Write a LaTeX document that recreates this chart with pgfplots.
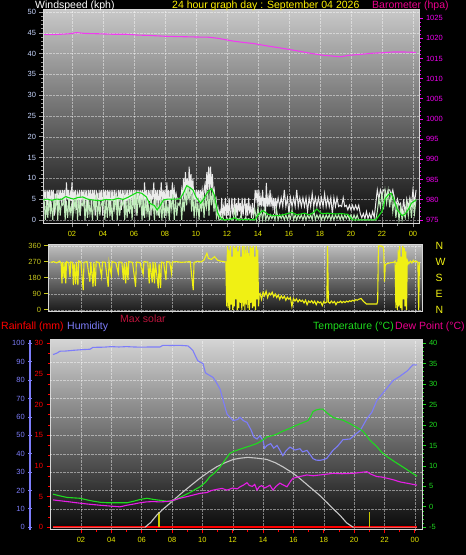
\documentclass[border=0pt]{standalone}
\usepackage{pgfplots}
\pgfplotsset{compat=1.18}
\usepackage{fontspec}
\setmainfont{Liberation Sans}
\definecolor{gtop}{RGB}{200,200,200}
\definecolor{gbot}{RGB}{12,12,12}
\definecolor{mtop}{RGB}{190,190,190}
\definecolor{mbot}{RGB}{25,25,25}
\definecolor{btop}{RGB}{212,212,212}
\definecolor{bbot}{RGB}{8,8,8}
\definecolor{lgray}{RGB}{215,215,215}
\definecolor{tyel}{RGB}{230,230,0}
\definecolor{tblue}{RGB}{200,215,255}
\definecolor{tmag}{RGB}{240,0,240}
\definecolor{olive2}{RGB}{200,200,30}
\definecolor{hblue}{RGB}{125,125,250}
\definecolor{tgreen}{RGB}{30,220,30}
\definecolor{dmag}{RGB}{230,30,230}
\definecolor{baro}{RGB}{240,60,240}
\definecolor{gust}{RGB}{235,235,235}
\definecolor{spd}{RGB}{190,235,185}
\definecolor{avg}{RGB}{20,220,20}
\definecolor{wdir}{RGB}{240,240,20}
\definecolor{solar}{RGB}{200,200,200}
\definecolor{msol}{RGB}{190,20,60}
\definecolor{sbar}{RGB}{200,200,0}
\pgfplotsset{
  panel/.style={scale only axis, anchor=south west, tick align=outside,
    /pgf/number format/assume math mode=true,
    tick label style={font=\fontsize{7.5}{8}\selectfont},
    grid style={densely dotted, white, opacity=0.45},
    major tick length=3.5pt, minor tick length=2pt},
  hours/.style={xtick={2,4,...,24}, xticklabels={02,04,06,08,10,12,14,16,18,20,22,00},
    minor x tick num=1, xticklabel style={color=tyel}},
}
\begin{document}
\begin{tikzpicture}[x=1pt,y=1pt]
\fill[black] (0,0) rectangle (466,555);
\useasboundingbox (0,0) rectangle (466,555);

% ---------------- top panel: wind speed ----------------
\begin{axis}[panel, hours, at={(43pt,331pt)}, width=376pt, height=214pt,
  xmin=0.13, xmax=24.39, ymin=-1, ymax=50.5,
  axis background/.style={top color=gtop, bottom color=gbot},
  ytick={0,5,...,50}, minor y tick num=4,
  xmajorgrids, ymajorgrids,
  axis line style={draw=lgray, line width=1pt},
  xtick pos=left, ytick pos=left,
  every tick/.style={gray!80, line width=0.6pt},
  yticklabel style={color=tblue}]
\addplot[gust, line width=1pt] coordinates {
(0.20,7.2)(0.26,4.6)(0.32,7.2)(0.38,1.2)(0.44,7.2)(0.50,5.0)(0.56,7.2)(0.62,2.6)(0.68,7.2)(0.74,5.2)(0.80,7.2)(0.86,1.0)(0.92,6.3)(0.98,4.8)(1.04,7.2)(1.10,2.0)(1.16,7.2)(1.22,5.0)(1.28,7.2)(1.34,3.5)(1.40,7.2)(1.46,4.8)(1.52,7.2)(1.58,1.0)(1.64,9.0)(1.70,5.0)(1.76,7.2)(1.82,2.0)(1.88,7.2)(1.94,4.6)(2.00,9.0)(2.06,1.0)(2.12,7.2)(2.18,5.2)(2.24,7.2)(2.30,2.4)(2.36,6.3)(2.42,4.8)(2.48,7.2)(2.54,1.0)(2.60,7.2)(2.66,5.0)(2.72,7.2)(2.78,3.0)(2.84,7.2)(2.90,5.0)(2.96,7.2)(3.02,1.2)(3.08,7.2)(3.14,4.8)(3.20,7.2)(3.26,2.5)(3.32,7.2)(3.38,5.0)(3.44,7.2)(3.50,1.0)(3.56,7.2)(3.62,5.2)(3.68,6.3)(3.74,2.0)(3.80,7.2)(3.86,4.8)(3.92,7.2)(3.98,1.0)(4.04,7.2)(4.10,5.0)(4.16,7.2)(4.22,3.0)(4.28,7.2)(4.34,5.0)(4.40,7.2)(4.46,1.0)(4.52,7.2)(4.58,4.5)(4.64,7.2)(4.70,2.0)(4.76,7.2)(4.82,5.0)(4.88,6.3)(4.94,1.0)(5.00,7.2)(5.06,5.2)(5.12,7.2)(5.18,2.4)(5.24,7.2)(5.30,4.8)(5.36,7.2)(5.42,1.2)(5.48,7.2)(5.54,5.0)(5.60,7.2)(5.66,2.0)(5.72,7.2)(5.78,5.0)(5.84,7.2)(5.90,3.5)(5.96,7.2)(6.02,5.0)(6.08,7.2)(6.14,1.0)(6.20,7.2)(6.26,5.5)(6.32,7.2)(6.38,3.0)(6.44,7.2)(6.50,5.0)(6.56,7.2)(6.62,1.0)(6.68,9.0)(6.74,5.0)(6.80,7.2)(6.86,2.5)(6.92,7.2)(6.98,4.6)(7.04,7.2)(7.10,1.0)(7.16,7.2)(7.22,5.0)(7.28,9.0)(7.34,2.0)(7.40,7.2)(7.46,5.0)(7.52,7.2)(7.58,1.0)(7.64,7.2)(7.70,4.8)(7.76,9.0)(7.82,3.0)(7.88,7.2)(7.94,5.0)(8.00,7.2)(8.06,1.0)(8.12,9.0)(8.18,4.6)(8.24,7.2)(8.30,2.0)(8.36,7.2)(8.42,5.0)(8.48,9.0)(8.54,5.0)(8.60,7.2)(8.66,5.0)(8.72,6.3)(8.78,5.0)(8.84,5.2)(8.90,5.0)(8.96,5.2)(9.02,5.0)(9.08,7.2)(9.14,5.0)(9.20,10.0)(9.26,5.0)(9.32,11.5)(9.38,6.3)(9.44,10.0)(9.50,5.0)(9.56,12.8)(9.62,7.2)(9.68,11.0)(9.74,5.0)(9.80,10.0)(9.86,5.0)(9.92,7.2)(9.98,3.0)(10.04,7.2)(10.10,5.0)(10.16,7.2)(10.22,4.0)(10.28,7.2)(10.34,5.0)(10.40,7.2)(10.46,5.0)(10.52,7.2)(10.58,8.5)(10.64,5.0)(10.70,11.5)(10.76,7.2)(10.82,12.8)(10.88,7.2)(10.94,12.8)(11.00,7.2)(11.06,11.0)(11.12,6.0)(11.18,7.2)(11.24,4.0)(11.30,5.0)(11.36,2.0)(11.42,3.0)(11.48,1.0)(11.54,2.0)(11.60,0.5)(11.66,5.3)(11.72,0.5)(11.78,3.0)(11.84,1.0)(11.90,5.3)(11.96,0.5)(12.02,4.0)(12.08,1.0)(12.14,5.3)(12.20,0.5)(12.26,2.0)(12.32,5.3)(12.38,1.0)(12.44,3.0)(12.50,5.3)(12.56,0.5)(12.62,4.0)(12.68,1.0)(12.74,5.3)(12.80,2.0)(12.86,4.0)(12.92,0.5)(12.98,5.3)(13.04,1.0)(13.10,3.5)(13.16,5.3)(13.22,0.5)(13.28,4.0)(13.34,1.0)(13.40,5.3)(13.46,2.0)(13.52,3.0)(13.58,0.5)(13.64,4.0)(13.70,1.0)(13.76,3.0)(13.82,7.2)(13.88,5.0)(13.94,7.2)(14.00,3.2)(14.06,7.2)(14.12,3.2)(14.18,5.3)(14.24,3.2)(14.30,7.2)(14.36,3.2)(14.42,5.3)(14.48,1.0)(14.54,8.9)(14.60,3.2)(14.66,5.3)(14.72,3.2)(14.78,7.2)(14.84,3.2)(14.90,5.3)(14.96,3.2)(15.02,5.3)(15.08,1.5)(15.14,5.3)(15.20,3.2)
(15.3,5.3)(15.4,3.2)(15.5,5.3)(15.6,3.2)(15.7,7.2)(15.8,3.2)(15.9,5.3)(16.0,1.5)(16.1,5.3)(16.2,3.2)(16.3,5.3)(16.4,3.2)(16.5,7.2)(16.6,3.2)(16.7,5.3)(16.8,3.2)(16.9,5.3)(17.0,3.2)(17.1,5.3)(17.2,2.0)(17.3,5.3)(17.4,3.2)(17.5,6.3)(17.6,3.2)(17.7,5.3)(17.8,3.2)(17.9,5.3)(18.0,3.2)(18.1,5.3)(18.2,3.2)(18.3,6.3)(18.4,3.2)(18.5,5.3)(18.6,3.2)(18.7,5.3)(18.8,1.5)(18.9,5.3)(19.0,3.2)(19.1,5.3)(19.2,3.2)(19.3,3.5)(19.4,3.2)(19.5,5.3)(19.6,3.2)(19.7,3.5)(19.8,2.4)(19.9,3.5)(20.0,2.4)(20.1,3.5)(20.2,2.4)(20.3,3.5)(20.4,2.4)(20.5,3.5)(20.6,1.5)(20.7,0.5)(20.8,1.5)(20.9,0.3)(21.0,2.0)(21.1,0.3)(21.2,1.5)(21.3,0.3)(21.4,2.0)(21.5,0.5)(21.6,4.0)(21.7,7.2)(21.8,5.0)(21.9,7.2)(22.0,6.0)(22.1,7.2)(22.2,7.2)(22.3,5.5)(22.4,7.2)(22.5,7.2)(22.6,6.0)(22.7,7.2)(22.8,5.0)(22.9,3.5)(23.0,5.0)(23.1,3.5)(23.2,4.0)(23.3,1.0)(23.4,5.0)(23.5,1.5)(23.6,5.0)(23.7,3.0)(23.8,5.3)(23.9,3.5)(24.0,7.2)(24.1,4.0)(24.2,7.2)};
\addplot[spd, line width=1pt] coordinates {
(0.20,5.0)(0.28,0.0)(0.36,4.5)(0.44,0.5)(0.52,5.0)(0.60,1.5)(0.68,3.5)(0.76,0.0)(0.84,5.0)(0.92,2.5)(1.00,6.0)(1.08,0.0)(1.16,5.0)(1.24,1.0)(1.32,4.0)(1.40,3.5)(1.48,5.0)(1.56,0.0)(1.64,4.5)(1.72,0.5)(1.80,5.0)(1.88,1.5)(1.96,3.5)(2.04,0.0)(2.12,5.0)(2.20,2.5)(2.28,6.0)(2.36,0.0)(2.44,5.0)(2.52,1.0)(2.60,4.0)(2.68,3.5)(2.76,5.0)(2.84,0.0)(2.92,4.5)(3.00,0.5)(3.08,5.0)(3.16,1.5)(3.24,3.5)(3.32,0.0)(3.40,5.0)(3.48,2.5)(3.56,6.0)(3.64,0.0)(3.72,5.0)(3.80,1.0)(3.88,4.0)(3.96,3.5)(4.04,5.0)(4.12,0.0)(4.20,4.5)(4.28,0.5)(4.36,5.0)(4.44,1.5)(4.52,3.5)(4.60,0.0)(4.68,5.0)(4.76,2.5)(4.84,6.0)(4.92,0.0)(5.00,5.0)(5.08,1.0)(5.16,4.0)(5.24,3.5)(5.32,5.0)(5.40,0.0)(5.48,4.5)(5.56,0.5)(5.64,5.0)(5.72,1.5)(5.80,5.0)(5.88,0.0)(5.96,6.0)(6.04,2.5)(6.12,7.0)(6.20,1.0)(6.28,6.0)(6.36,3.5)(6.44,5.0)(6.52,0.0)(6.60,6.0)(6.68,0.5)(6.76,5.0)(6.84,1.5)(6.92,3.5)(7.00,0.0)(7.08,5.0)(7.16,2.5)(7.24,4.0)(7.32,0.0)(7.40,5.0)(7.48,1.0)(7.56,4.0)(7.64,0.5)(7.72,5.0)(7.80,0.0)(7.88,4.5)(7.96,0.5)(8.04,5.0)(8.12,1.5)(8.20,3.5)(8.28,0.0)(8.36,5.0)(8.44,2.5)(8.52,6.0)(8.60,0.0)(8.68,5.0)(8.76,1.0)(8.84,4.0)(8.92,3.5)(9.00,5.0)(9.08,0.0)(9.16,5.0)(9.24,2.0)(9.32,7.0)(9.40,3.5)(9.48,8.5)(9.56,5.0)(9.64,7.5)(9.72,2.0)(9.80,6.0)(9.88,0.5)(9.96,5.0)(10.04,1.5)(10.12,4.0)(10.20,0.0)(10.28,5.0)(10.36,2.0)(10.44,6.0)(10.52,0.5)(10.60,5.0)(10.68,3.0)(10.76,7.0)(10.84,1.0)(10.92,7.5)(11.00,3.5)(11.08,7.0)(11.16,2.0)(11.24,5.0)(11.32,0.5)(11.40,2.0)(11.48,0.0)
(11.6,0.0)(11.7,1.0)(11.8,0.0)(11.9,0.0)(12.0,0.3)(12.1,0.0)(12.2,0.5)(12.3,0.0)(12.4,0.0)(12.5,2.5)(12.6,0.0)(12.7,0.3)(12.8,0.0)(12.9,1.0)(13.0,0.0)(13.1,0.0)(13.2,0.5)(13.3,0.0)(13.4,0.3)(13.5,0.0)(13.6,0.0)(13.7,0.5)(13.8,2.5)(13.9,0.0)(14.0,3.0)(14.1,0.0)(14.2,2.4)(14.3,0.0)(14.4,2.5)(14.5,0.0)(14.6,1.2)(14.7,0.0)(14.8,1.2)(14.9,0.3)(15.0,1.2)(15.1,0.0)(15.2,2.4)(15.3,0.0)(15.4,1.2)(15.5,0.3)(15.6,1.2)(15.7,0.0)(15.8,1.2)(15.9,0.0)(16.0,1.2)(16.1,0.3)(16.2,2.4)(16.3,0.0)(16.4,1.2)(16.5,0.0)(16.6,1.2)(16.7,0.3)(16.8,1.2)(16.9,0.0)(17.0,1.2)(17.1,0.0)(17.2,1.2)(17.3,0.3)(17.4,1.2)(17.5,0.0)(17.6,2.4)(17.7,0.0)(17.8,1.2)(17.9,0.3)(18.0,1.2)(18.1,0.0)(18.2,1.2)(18.3,0.0)(18.4,1.2)(18.5,0.3)(18.6,1.2)(18.7,0.0)(18.8,1.2)(18.9,0.0)(19.0,1.2)(19.1,0.3)(19.2,1.2)(19.3,0.0)(19.4,1.2)(19.5,0.0)(19.6,1.2)(19.7,0.3)(19.8,1.2)(19.9,0.0)(20.0,1.2)(20.1,0.0)(20.2,1.2)(20.3,0.0)(20.4,1.2)(20.5,0.0)(20.6,0.0)(21.6,0.0)(21.7,2.0)(21.8,5.0)(21.9,3.0)(22.0,6.5)(22.1,2.5)(22.2,7.0)(22.3,4.0)(22.4,7.0)(22.5,3.0)(22.6,6.5)(22.7,2.0)(22.8,5.0)(22.9,0.5)(23.0,4.0)(23.1,0.0)(23.2,3.0)(23.3,0.0)(23.4,2.0)(23.5,0.5)(23.6,4.0)(23.7,1.0)(23.8,5.0)(23.9,0.5)(24.0,5.0)(24.1,1.5)(24.2,5.0)};
\addplot[avg, line width=1.1pt] coordinates {
(0.15,4.8)(0.4,5.0)(0.7,4.7)(1.0,5.0)(1.3,4.9)(1.6,5.6)(1.9,5.2)(2.1,5.0)(2.4,5.4)(2.7,5.5)(3.0,5.0)(3.3,4.8)(3.8,4.6)(4.2,4.9)(4.6,4.8)(5.0,5.2)(5.3,4.9)(5.6,5.4)(5.9,6.0)(6.2,6.6)(6.5,6.4)(6.8,5.5)(7.0,4.0)(7.3,3.5)(7.5,2.4)(7.7,3.5)(7.9,4.8)(8.2,5.0)(8.5,5.0)(8.8,5.0)(9.0,5.2)(9.2,6.5)(9.4,8.2)(9.6,7.8)(9.8,7.2)(10.0,5.5)(10.3,4.0)(10.5,5.0)(10.7,6.4)(10.9,7.2)(11.0,7.5)(11.2,5.8)(11.4,1.7)(11.6,0.3)(11.8,0.0)(12.2,0.1)(12.5,0.5)(12.7,0.0)(13.2,0.1)(13.8,0.0)(14.0,1.2)(14.3,2.2)(14.5,1.8)(14.6,1.4)(15.0,1.0)(15.3,1.0)(15.7,1.3)(16.0,1.6)(16.2,1.8)(16.5,1.2)(17.0,1.6)(17.3,1.2)(17.6,1.8)(17.8,2.6)(18.1,1.5)(18.5,1.6)(19.0,1.4)(19.4,1.5)(19.8,1.3)(20.1,0.0)(21.0,0.0)(21.6,0.0)(22.0,2.0)(22.2,5.0)(22.4,6.0)(22.6,6.4)(22.8,4.5)(23.0,2.4)(23.3,1.0)(23.5,1.4)(23.7,2.5)(23.9,4.0)(24.2,4.8)};
\end{axis}
% barometer
\begin{axis}[panel, at={(43pt,331pt)}, width=376pt, height=214pt,
  xmin=0.13, xmax=24.39, ymin=974, ymax=1027,
  axis x line=none, axis y line*=right,
  y axis line style={draw=lgray, line width=1pt},
  ytick={975,980,...,1025}, minor y tick num=4,
  every tick/.style={tmag, line width=0.8pt},
  yticklabel style={color=tmag},
  /pgf/number format/1000 sep={}]
\addplot[baro, line width=1.1pt] coordinates {
(0.2,1020.9)(0.8,1020.9)(1.3,1021.0)(1.8,1021.1)(2.3,1021.4)(2.8,1021.2)(3.8,1021.1)(4.6,1021.0)(5.5,1021.0)(6.2,1020.8)(7.0,1020.7)(8.0,1020.5)(9.0,1020.4)(10.2,1020.3)(10.7,1020.3)(11.4,1020.0)(12.4,1019.3)(13.0,1019.0)(13.7,1018.7)(14.6,1018.1)(15.6,1017.5)(16.5,1016.9)(17.5,1016.2)(18.2,1015.8)(18.8,1015.6)(19.3,1015.4)(19.9,1015.8)(20.6,1016.0)(21.4,1016.3)(22.0,1016.4)(22.7,1016.6)(23.4,1016.6)(24.2,1016.5)};
\end{axis}

% ---------------- middle panel: wind direction ----------------
\begin{axis}[panel, at={(48pt,243pt)}, width=374pt, height=67pt,
  xmin=-0.17, xmax=24.47, ymin=-11.25, ymax=365.6,
  axis background/.style={top color=mtop, bottom color=mbot},
  xtick={2,4,...,24}, xticklabels={},
  ytick={0,90,...,360},
  xmajorgrids, ymajorgrids,
  axis line style={draw=lgray, line width=1pt},
  xtick pos=left, ytick pos=left, major x tick style={draw=none},
  every tick/.style={olive2, line width=1pt},
  yticklabel style={color=olive2}]
\addplot[wdir, line width=1.1pt] coordinates {
(0.0,268)(0.2,272)(0.4,265)(0.6,275)(0.7,262)(0.75,150)(0.8,270)(0.9,180)(0.95,268)(1.0,150)(1.05,272)(1.2,265)(1.28,187)(1.33,270)(1.45,268)(1.5,140)(1.55,260)(1.65,145)(1.7,270)(1.8,140)(1.85,275)(2.0,270)(2.15,112)(2.2,268)(2.4,272)(2.59,159)(2.65,270)(2.8,131)(2.85,268)(2.95,135)(3.0,272)(3.2,266)(3.36,187)(3.42,270)(3.6,268)(3.8,131)(3.85,270)(4.0,197)(4.05,272)(4.3,266)(4.46,206)(4.5,270)(4.7,268)(4.8,169)(4.85,262)(4.95,150)(5.0,270)(5.1,169)(5.15,272)(5.4,268)(5.6,131)(5.65,270)(5.9,266)(6.1,200)(6.15,272)(6.4,270)(6.5,150)(6.55,265)(6.7,155)(6.75,270)(6.85,150)(6.9,268)(7.1,122)(7.15,260)(7.25,125)(7.3,270)(7.45,266)(7.6,169)(7.65,272)(7.85,270)(7.97,206)(8.02,270)(8.3,272)(8.6,268)(8.9,270)(9.2,272)(9.4,112)(9.45,268)(9.7,274)(9.9,270)(10.1,280)(10.3,319)(10.4,290)(10.6,285)(10.8,300)(11.0,280)(11.2,275)(11.4,272)(11.55,270)
(11.6,20)(11.65,360)(11.7,10)(11.75,340)(11.8,0)(11.85,360)(11.9,30)(11.95,300)(12.0,0)(12.05,360)(12.1,20)(12.15,350)(12.2,60)(12.25,360)(12.3,0)(12.35,330)(12.4,10)(12.45,360)(12.5,40)(12.55,300)(12.6,0)(12.65,360)(12.7,20)(12.75,360)(12.8,0)(12.85,340)(12.9,30)(12.95,360)(13.0,10)(13.05,320)(13.1,0)(13.15,360)(13.2,40)(13.25,350)(13.3,10)(13.35,360)(13.4,20)(13.45,300)(13.5,0)(13.55,360)(13.6,60)(13.65,340)(13.7,20)(13.75,90)
(13.8,94)(13.9,60)(14.0,100)(14.1,80)(14.2,105)(14.3,70)(14.4,95)(14.5,85)(14.6,100)(14.7,75)(14.8,90)(14.9,70)(15.0,85)(15.1,60)(15.2,80)(15.3,65)(15.4,78)(15.5,55)(15.6,72)(15.7,60)(15.8,70)(15.9,20)(16.0,65)(16.1,50)(16.2,62)(16.3,45)(16.4,58)(16.5,48)(16.6,55)(16.7,40)(16.8,55)(16.9,30)(17.0,50)(17.1,42)(17.2,52)(17.3,38)(17.4,50)(17.5,30)(17.6,48)(17.7,40)(17.8,45)(17.9,25)(18.0,48)(18.1,40)(18.2,45)(18.25,360)(18.3,45)(18.4,38)(18.5,50)(18.6,40)(18.7,48)(18.8,30)(18.9,45)(19.0,42)(19.1,50)(19.2,40)(19.3,48)(19.4,42)(19.5,50)(19.6,45)(19.7,52)(19.8,48)(19.9,55)(20.0,50)(20.1,58)(20.2,55)(20.3,60)(20.45,65)(20.6,50)(20.8,34)(21.2,34)(21.5,34)(21.55,50)(21.6,360)(21.8,360)(21.9,355)(21.95,340)(22.0,160)(22.05,255)(22.2,262)(22.4,266)(22.6,268)(22.7,275)(22.75,10)(22.8,270)(22.85,0)(22.9,340)(22.95,20)(23.0,360)(23.05,10)(23.1,300)(23.15,0)(23.2,360)(23.25,60)(23.3,350)(23.35,20)(23.4,330)(23.45,0)(23.5,280)(23.6,260)(23.7,275)(23.8,265)(23.9,280)(24.0,270)(24.1,275)(24.2,268)(24.25,0)(24.3,270)};
\end{axis}
\begin{axis}[panel, at={(48pt,243pt)}, width=374pt, height=67pt,
  xmin=-0.17, xmax=24.47, ymin=-11.25, ymax=365.6,
  axis x line=none, axis y line*=right, y axis line style={draw=none},
  ytick={0,90,180,270,360}, yticklabels={N,E,S,W,N},
  major tick length=0pt,
  yticklabel style={color=wdir, font=\fontsize{10.5}{12}\selectfont, xshift=10pt}]
\addplot[draw=none] coordinates {(0,0)};
\end{axis}

% ---------------- bottom panel ----------------
% rainfall axis (main box)
\begin{axis}[panel, hours, at={(50pt,25pt)}, width=372pt, height=190pt,
  xmin=-0.04, xmax=24.47, ymin=-0.44, ymax=30.54,
  axis background/.style={top color=btop, bottom color=bbot},
  ytick={0,5,...,30}, minor y tick num=2,
  xmajorgrids,
  extra y ticks={3,6,9,12,15,18,21,24,27}, extra y tick labels={},
  extra y tick style={ymajorgrids=true, major tick length=0pt},
  axis line style={draw=lgray, line width=1pt},
  xtick pos=left, ytick pos=left,
  every tick/.style={red, line width=0.9pt},
  yticklabel style={color=red}]
\addplot[red, line width=2pt] coordinates {(0.16,0.05)(24.14,0.05)};
\addplot[sbar, ycomb, line width=1.3pt] coordinates {(7.14,2.45)(21.0,2.45)};
\end{axis}
% humidity ruler
\begin{axis}[panel, at={(30pt,25pt)}, width=1pt, height=190pt,
  xmin=0, xmax=1, ymin=-1.47, ymax=101.8,
  axis x line=none, axis y line=left,
  y axis line style={draw=hblue, line width=1.6pt, -},
  ytick={0,10,...,100}, minor y tick num=4,
  every tick/.style={hblue, line width=0.8pt},
  yticklabel style={color=hblue}]
\addplot[draw=none] coordinates {(0,0)};
\end{axis}
% humidity data
\begin{axis}[panel, at={(50pt,25pt)}, width=372pt, height=190pt,
  xmin=-0.04, xmax=24.47, ymin=-1.47, ymax=101.8, hide axis]
\addplot[hblue, line width=1.1pt] coordinates {
(0.16,93.9)(0.4,94.6)(0.62,95.7)(1.0,95.8)(1.5,96.2)(2.0,96.5)(2.6,96.8)(2.79,97.8)(3.5,97.9)(4.0,98.2)(4.5,98.0)(5.0,98.2)(5.5,98.0)(6.0,97.9)(6.5,98.0)(7.0,98.0)(7.2,98.0)(7.4,98.9)(8.0,98.8)(8.5,98.9)(9.05,98.6)(9.2,97.5)(9.38,96)(9.55,93)(9.7,90.5)(10.04,89)(10.2,84)(10.3,83.4)(10.7,81.5)(10.9,79)(11.16,75.2)(11.4,68)(11.62,61.6)(11.8,60)(12.02,58)(12.3,58.5)(12.48,59.8)(12.7,58)(12.94,57)(13.2,53)(13.4,49)(13.6,48)(13.8,49.8)(14.0,47)(14.1,43)(14.26,44.5)(14.5,45.5)(14.7,43)(14.92,44.5)(15.1,42)(15.3,39)(15.5,41.5)(15.77,43.6)(16.1,42)(16.43,42.7)(16.6,41)(16.89,41.8)(17.1,39.5)(17.29,37.3)(17.5,36.5)(17.75,36.4)(18.0,36.8)(18.2,37.5)(18.6,41.8)(18.9,44)(19.26,47.6)(19.73,48)(20.0,50)(20.4,52.6)(20.84,59)(21.17,62.6)(21.5,69)(21.8,72)(22.2,76)(22.56,79.7)(23.0,82)(23.5,85)(23.87,88.3)(24.14,88.3)};
\end{axis}
% temperature axis (right)
\begin{axis}[panel, at={(50pt,25pt)}, width=372pt, height=190pt,
  xmin=-0.04, xmax=24.47, ymin=-5.66, ymax=40.8,
  axis x line=none, axis y line*=right,
  y axis line style={draw=lgray, line width=1pt},
  ytick={-5,0,...,40}, minor y tick num=4,
  every tick/.style={tgreen, line width=0.8pt},
  yticklabel style={color=tgreen}]
\addplot[solar, opacity=0.5, line width=1.1pt] coordinates {
(0.16,-5)(6.22,-5)};
\addplot[solar, line width=1.1pt] coordinates {
(6.22,-5)(6.6,-3.8)(7.0,-2.0)(7.4,-0.6)(7.87,0.9)(8.3,2.3)(8.74,3.7)(9.3,5.4)(9.84,7.0)(10.4,8.5)(10.94,9.8)(11.5,10.8)(12.04,11.6)(12.5,11.9)(13.0,12.1)(13.6,11.9)(14.24,11.6)(14.8,10.8)(15.3,9.8)(15.9,8.4)(16.4,7.0)(17.0,5.1)(17.7,2.9)(18.2,1.1)(18.6,-0.4)(19.1,-2.2)(19.5,-3.9)(19.94,-5)};
\addplot[solar, opacity=0.5, line width=1.1pt] coordinates {
(19.94,-5)(24.14,-5)};
\addplot[tgreen, line width=1.1pt] coordinates {
(0.16,3.1)(0.6,2.7)(1.08,2.3)(1.5,2.2)(1.94,2.1)(2.4,1.7)(2.79,1.4)(3.3,1.1)(3.72,1.0)(4.4,1.0)(5.03,1.0)(5.5,1.4)(5.89,1.8)(6.35,2.1)(6.8,1.8)(7.2,1.6)(7.86,1.3)(8.2,1.7)(8.52,2.3)(9.18,3.5)(9.5,4.2)(9.84,4.9)(10.2,6.0)(10.5,7.4)(10.8,8.3)(11.16,9.7)(11.5,11.5)(11.82,13.1)(12.1,13.6)(12.48,14.1)(12.8,14.5)(13.14,14.9)(13.6,15.5)(14.0,16.4)(14.26,17.1)(14.6,17.4)(14.92,17.8)(15.3,18.5)(15.77,19.2)(16.1,19.8)(16.43,20.3)(16.96,21.1)(17.15,22.2)(17.29,23.3)(17.5,23.7)(17.75,23.9)(17.94,23.9)(18.2,23.0)(18.6,21.9)(18.9,21.5)(19.26,21.2)(19.7,20.4)(20.18,19.4)(20.58,18.5)(20.8,17.5)(21.04,16.3)(21.5,14.7)(21.8,13.4)(22.16,12.3)(22.6,11.2)(23.02,10.2)(23.4,9.3)(23.68,8.6)(24.14,7.5)};
\addplot[dmag, line width=1.1pt] coordinates {
(0.16,1.7)(0.6,1.5)(1.08,1.3)(1.7,1.0)(2.4,0.7)(3.25,0.4)(3.9,0.2)(4.57,0.0)(5.03,0.4)(5.5,0.7)(5.89,1.0)(6.3,1.2)(6.75,1.3)(7.2,1.2)(7.67,1.3)(8.1,1.6)(8.52,2.1)(9.2,2.7)(9.84,3.3)(10.3,3.5)(10.6,4.0)(10.97,4.3)(11.3,4.5)(11.62,4.1)(12.0,4.6)(12.3,4.4)(12.48,4.9)(12.7,5.3)(12.94,5.9)(13.1,5.2)(13.3,5.0)(13.45,5.5)(13.6,4.1)(13.75,4.9)(13.9,5.2)(14.1,4.6)(14.26,4.9)(14.45,5.3)(14.65,4.1)(14.85,5.0)(15.11,5.8)(15.3,5.4)(15.57,4.9)(15.8,6.2)(15.97,7.0)(16.4,7.4)(16.89,7.8)(17.3,7.6)(17.75,7.8)(18.2,8.0)(18.6,8.2)(19.2,8.1)(19.92,8.2)(20.4,8.4)(20.84,8.6)(21.1,8.0)(21.5,7.4)(21.8,7.3)(22.16,7.0)(22.6,6.6)(23.02,6.1)(23.6,5.7)(24.14,5.3)};
\end{axis}

% ---------------- titles ----------------
\begin{scope}[every node/.style={inner sep=0pt, anchor=base west, font=\fontsize{10.5}{12}\selectfont}]
\node[text=white] at (35,546.5) {Windspeed (kph)};
\node[text=yellow] at (172,546.5) {24 hour graph day : September 04 2026};
\node[text=magenta] at (372,546.5) {Barometer (hpa)};
\node[text=msol] at (120,232) {Max solar};
\node[text=red] at (1,225) {Rainfall (mm)};
\node[text=hblue] at (67,225) {Humidity};
\node[text=tgreen] at (313,225) {Temperature (°C)};
\node[text=magenta] at (395,225) {Dew Point (°C)};
\end{scope}
\end{tikzpicture}
\end{document}
